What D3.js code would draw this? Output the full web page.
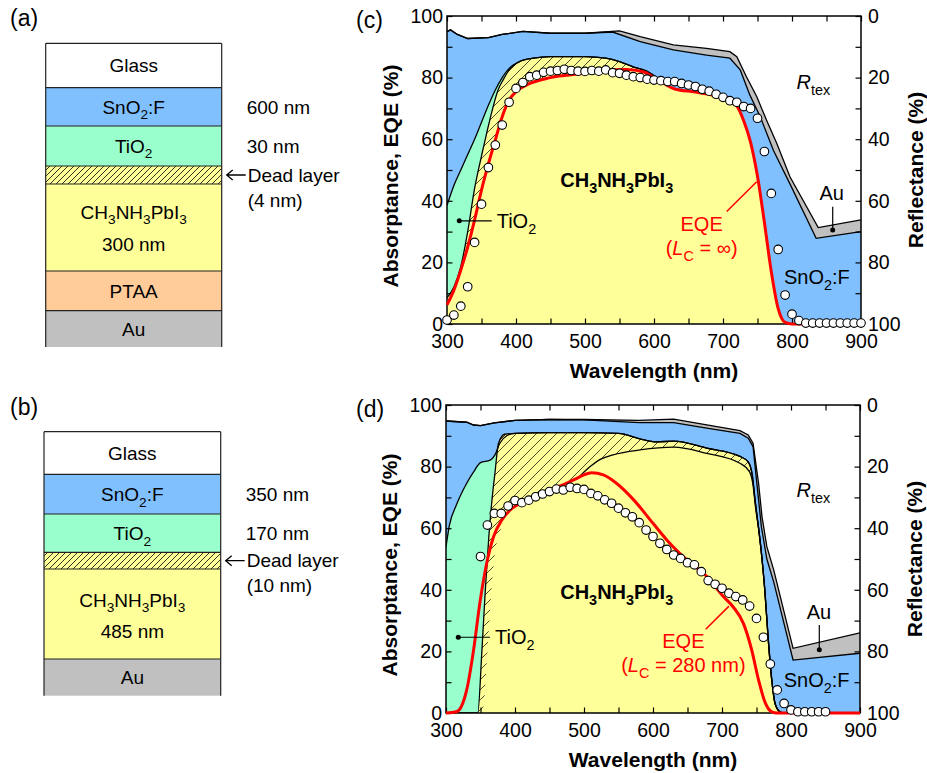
<!DOCTYPE html>
<html><head><meta charset="utf-8">
<script src="https://cdn.jsdelivr.net/npm/d3@7"></script>
<style>
body{margin:0;background:#fff}
text{font-family:"Liberation Sans",Arial,sans-serif;white-space:pre;fill:#000}
</style></head>
<body><svg id="fig" width="927" height="773"></svg>
<script>
// ================= DATA =================
// Panel (c): cumulative absorptance curves [wavelength nm, %]
const A_c = [[300,94.9],[305,95.5],[315,94],[330,92.7],[360,93],[380,94],[410,95],[450,94.4],[500,94.4],[550,95.2],[580,93.3],[628,90.6],[676,89.5],[710,88.4],[720,86.8],[734,80.3],[749,73.8],[763,66.2],[778,58.6],[797,47.8],[838,31.3],[900,33.8]];
const S_c = [[300,94.9],[305,95.5],[315,94],[330,92.7],[360,93],[380,94],[410,95],[450,94.4],[500,94.4],[540,94.8],[580,91.7],[628,89],[676,87.3],[710,86.3],[725,82.5],[739,74.3],[754,67.3],[773,56.4],[797,45.5],[835,27.8],[900,30]];
const T_c = [[300,38.5],[310,45],[320,50],[330,55],[340,60],[350,65.5],[360,71],[370,76],[380,80],[390,83],[405,85.2],[425,86.3],[450,86.8],[500,86.8],[530,86.3],[550,85.2],[570,83.5],[590,82],[610,79]];
const D_c = [[300,8.5],[310,12],[320,18.6],[330,30],[340,44],[352,56.5],[362,66.2],[374,76],[382,79.5],[390,82.5],[405,85.2],[425,86.3],[450,86.8],[500,86.8],[530,86.3],[550,85.2],[570,83.5],[590,82],[610,79]];
const P_c = [[300,6.2],[310,11],[320,17.5],[330,25],[340,33.8],[350,43.5],[360,52],[370,59.7],[380,67.3],[390,72.7],[400,75.4],[420,78.1],[450,80],[500,81.4],[530,82.5],[560,82.6],[585,81.8],[600,80],[615,78],[630,76.3],[660,75.3],[700,73.3],[720,70.8],[730,66],[740,59],[750,48],[760,33],[770,17],[780,5],[790,0.5],[800,0],[900,0]];
// EQE (L_C = infinity) equals perovskite absorptance in (c)
const eqeLine_c = P_c;
const eqeMeasWl_c = [300,310,320,330,340,350,360,370,380,390,400,410,420,430,440,450,460,470,480,490,500,510,520,530,540,550,560,570,580,590,600,610,620,630,640,650,660,670,680,690,700,710,720,730,740,750,760,770,780,790,800,810,820,830,840,850,860,870,880,890,900];
const eqeMeas_c = [1.3,2.9,5.8,12.1,26.5,38.9,50.8,58.1,64.6,72,76.5,78.4,80.3,80.8,81.7,82.1,82.3,82.7,82.3,82.1,82,82.3,82.1,82.5,81.6,81.4,80.8,80.3,80,79.5,79.2,79,78.7,78.7,78.1,77.6,77.1,76.2,75.6,74.6,73.6,72.5,72,70.6,70,66.8,56,42.4,24.2,9.4,3.2,1.1,0.3,0.3,0.3,0.3,0.3,0.3,0.3,0.3,0.3];

// Panel (d)
const A_d = [[300,94.8],[330,94.4],[340,93.5],[350,93.3],[370,94.2],[400,95],[450,95.3],[500,95.3],[580,95],[630,95.4],[680,93.5],[726,91.7],[738,90.3],[745,87.6],[753,74.6],[758,63.7],[765,54],[775,46.4],[803,21],[900,26]];
const S_d = [[300,94.8],[330,94.4],[340,93.5],[350,93.3],[370,94.2],[400,95],[450,95.3],[500,95.2],[580,94.3],[630,94.3],[680,92.4],[726,90.8],[738,89.2],[745,86.5],[752,71.4],[757,60.6],[765,50],[775,42.5],[803,17.2],[900,19.4]];
const D_d = [[300,0],[346,0],[352,20],[357,40],[362,57],[367,70],[371,78],[376,87.5],[385,90.5],[400,90.8],[450,91],[500,91],[550,90.8],[581,89],[605,88],[630,88.3],[678,86],[726,83.3],[738,81.5],[744,77],[748,69],[753,60],[758,50],[762,40],[767,24],[772,11],[777,3],[784,0.4],[790,0],[900,0]];
const T_dHead = [[300,54],[305,61],[315,67.5],[330,74.6],[340,78.3],[350,81.3],[364,82.1],[371,83.8],[378,87.6],[388,90]];
const T_d = T_dHead.concat(D_d.filter(d => d[0] >= 400));
const P_d = [[300,0],[352,0],[356,6],[360,20],[365,37],[370,50],[380,60],[392,65],[407,67.2],[427,69.5],[451,71.8],[475,74],[490,76],[509,80],[525,82.5],[542,83.8],[581,85.4],[630,86.3],[678,84.3],[726,81.1],[740,78.3],[745,74],[749,66],[753,60],[758,50],[762,40],[767,24],[772,11],[777,3],[784,0.4],[790,0],[900,0]];
const eqeLine_d = [[300,0],[315,0.4],[322,2],[330,7.5],[340,20.5],[349,35.6],[359,48.6],[369,57.3],[381,62.7],[393,65.9],[407,68],[427,70.2],[451,72.4],[475,74.6],[494,76.7],[511,78],[528,77.3],[547,74.6],[572,69.2],[600,61.6],[620,56.2],[649,49.7],[678,44.3],[702,37.8],[716,34.5],[731,29.1],[743,20.5],[753,10.7],[762,3.7],[772,0.4],[780,0],[900,0]];
const eqeMeasWl_d = [350,360,370,380,390,400,410,420,430,440,450,460,470,480,490,500,510,520,530,540,550,560,570,580,590,600,610,620,630,640,650,660,670,680,690,700,710,720,730,740,750,760,770,780,790,800,810,820,830,840,850];
const eqeMeas_d = [50.8,61,64.8,64.8,67.2,69,68.3,69.1,70.2,71.1,71.9,72.7,72.4,73.3,72.9,72.6,71.3,70.5,69.2,68.1,66.5,65,63.7,61.8,59.4,57.3,55.1,53.1,51.3,50.2,48.8,48.1,45.9,43,41.8,40.5,38.9,37.8,36.7,34.7,30.7,24.6,15.9,7.5,3.1,1,0.4,0.4,0.4,0.4,0.4];

// Ticks
const xTicks = [300,350,400,450,500,550,600,650,700,750,800,850,900];
const yTicks = [0,10,20,30,40,50,60,70,80,90,100];

// Layer stacks (diagrams)
const layersA = ["Glass","SnO_{2}:F","TiO_{2}","dead","CH_{3}NH_{3}PbI_{3}","PTAA","Au"];
const thickA = ["","600 nm","30 nm","(4 nm)","300 nm","",""];
const layersB = ["Glass","SnO_{2}:F","TiO_{2}","dead","CH_{3}NH_{3}PbI_{3}","Au"];
const thickB = ["","350 nm","170 nm","(10 nm)","485 nm",""];

// ================= STYLE =================
const COL = {glass:"#ffffff", sno2:"#80c0ff", tio2:"#99ffcc", pvk:"#ffff99", ptaa:"#ffcc99", au:"#c0c0c0", red:"#ff0000"};
const layerFill = {"Glass":COL.glass,"SnO_{2}:F":COL.sno2,"TiO_{2}":COL.tio2,"dead":COL.pvk,"CH_{3}NH_{3}PbI_{3}":COL.pvk,"PTAA":COL.ptaa,"Au":COL.au};

const svg = d3.select("#fig");
const defs = svg.append("defs");
function hatch(id, s, w){
  const p = defs.append("pattern").attr("id",id).attr("patternUnits","userSpaceOnUse").attr("width",s).attr("height",s);
  p.append("path").attr("d",`M${-s/2},${s/2} L${s/2},${-s/2} M0,${s} L${s},0 M${s/2},${1.5*s} L${1.5*s},${s/2}`)
   .attr("stroke","#000").attr("stroke-width",w).attr("fill","none");
}
hatch("hatchChart", 10, 0.7);
hatch("hatchDiag", 6, 0.8);

function rich(sel, str, fs){
  const parts = str.match(/_\{[^}]*\}|\*[^*]*\*|[^_*]+/g);
  let shift = 0;
  parts.forEach(p => {
    let t = p, sub = false, it = false;
    if (p.startsWith("_{")) { t = p.slice(2,-1); sub = true; }
    else if (p.startsWith("*")) { t = p.slice(1,-1); it = true; }
    const ts = sel.append("tspan").text(t);
    if (sub) { ts.attr("font-size", fs*0.72); const s = fs*0.3; ts.attr("dy", s - shift); shift = s; }
    else { ts.attr("font-size", fs); if (shift) { ts.attr("dy", -shift); shift = 0; } }
    if (it) ts.attr("font-style","italic");
  });
  return sel;
}
function label(g, x, y, str, opt={}){
  const fs = opt.fs || 20;
  const t = g.append("text").attr("x",x).attr("y",y).attr("font-size",fs)
    .attr("text-anchor", opt.anchor || "middle").attr("dy", opt.dy != null ? opt.dy : "0.35em");
  if (opt.bold) t.attr("font-weight","bold");
  if (opt.color) t.style("fill", opt.color);
  rich(t, str, fs);
  return t;
}

// ================= DIAGRAMS =================
function diagram(cfg){
  const g = svg.append("g");
  const yb = cfg.bounds;
  cfg.layers.forEach((name,i) => {
    g.append("rect").attr("x",cfg.x0).attr("y",yb[i]).attr("width",cfg.x1-cfg.x0).attr("height",yb[i+1]-yb[i])
      .attr("fill", layerFill[name]);
    if (name === "dead") {
      g.append("rect").attr("x",cfg.x0).attr("y",yb[i]).attr("width",cfg.x1-cfg.x0).attr("height",yb[i+1]-yb[i])
        .attr("fill","url(#hatchDiag)");
    }
  });
  for (let i = 0; i < yb.length-1; i++) {
    g.append("line").attr("x1",cfg.x0).attr("x2",cfg.x1).attr("y1",yb[i]).attr("y2",yb[i]).attr("stroke","#222").attr("stroke-width",1.2);
  }
  [cfg.x0,cfg.x1].forEach(x => g.append("line").attr("x1",x).attr("x2",x).attr("y1",yb[0]).attr("y2",yb[yb.length-1]).attr("stroke","#222").attr("stroke-width",1.2));
  const cx = (cfg.x0+cfg.x1)/2;
  cfg.layers.forEach((name,i) => {
    const cy = (yb[i]+yb[i+1])/2;
    if (name === "dead") {
      const ax = cfg.x1 + 4;
      g.append("path").attr("d",`M${ax+20},${cy} L${ax+1},${cy} M${ax+7},${cy-5} L${ax+1},${cy} L${ax+7},${cy+5}`)
        .attr("stroke","#000").attr("stroke-width",1.3).attr("fill","none");
      label(g, ax+22, cy, "Dead layer", {anchor:"start", fs:19});
      label(g, ax+22, cy+25, cfg.thick[i], {anchor:"start", fs:19});
    } else if (name.startsWith("CH")) {
      label(g, cx, cy + cfg.pvkOff[0], name, {fs:19});
      label(g, cx, cy + cfg.pvkOff[1], cfg.thick[i], {fs:19});
    } else {
      label(g, cx, cy, name, {fs:19});
      if (cfg.thick[i]) label(g, cfg.x1+25, cy, cfg.thick[i], {anchor:"start", fs:19});
    }
  });
  label(g, cfg.tagX, cfg.tagY, cfg.tag, {anchor:"start", fs:23, dy:0});
}
diagram({layers:layersA, thick:thickA, x0:45.7, x1:221.7, bounds:[43.3,87.7,126,166,184,271,310.7,347], pvkOff:[-15.5,16.5], tag:"(a)", tagX:10, tagY:26});
diagram({layers:layersB, thick:thickB, x0:44, x1:220.7, bounds:[431.7,474.3,514,552.3,569,659,695.7], pvkOff:[-14,17.7], tag:"(b)", tagX:10, tagY:415});

// ================= CHARTS =================
function chart(cfg){
  const g = svg.append("g");
  const x = d3.scaleLinear().domain([300,900]).range([cfg.l,cfg.r]);
  const y = d3.scaleLinear().domain([0,100]).range([cfg.b,cfg.t]);
  const yR = d3.scaleLinear().domain([0,100]).range([cfg.t,cfg.b]);
  const clip = "clip"+cfg.id;
  defs.append("clipPath").attr("id",clip).append("rect").attr("x",cfg.l).attr("y",cfg.t).attr("width",cfg.r-cfg.l).attr("height",cfg.b-cfg.t);
  const areaM = d3.area().x(d=>x(d[0])).y0(y(0)).y1(d=>y(d[1])).curve(d3.curveMonotoneX);
  const areaL = d3.area().x(d=>x(d[0])).y0(y(0)).y1(d=>y(d[1])).curve(d3.curveLinear);
  const lineM = d3.line().x(d=>x(d[0])).y(d=>y(d[1])).curve(d3.curveMonotoneX);
  const lineL = d3.line().x(d=>x(d[0])).y(d=>y(d[1])).curve(d3.curveLinear);
  const cg = g.append("g").attr("clip-path",`url(#${clip})`);
  cg.append("path").attr("d",areaL(cfg.A)).attr("fill",COL.au);
  cg.append("path").attr("d",areaL(cfg.S)).attr("fill",COL.sno2);
  cg.append("path").attr("d",areaM(cfg.T)).attr("fill",COL.tio2);
  cg.append("path").attr("d",areaM(cfg.D)).attr("fill",COL.pvk);
  cg.append("path").attr("d",areaM(cfg.D)).attr("fill","url(#hatchChart)");
  cg.append("path").attr("d",areaM(cfg.P)).attr("fill",COL.pvk);
  const ln = (d, gen) => cg.append("path").attr("d",gen(d)).attr("fill","none").attr("stroke","#000").attr("stroke-width",1.3);
  ln(cfg.A, lineL); ln(cfg.S, lineL); ln(cfg.T, lineM); ln(cfg.D, lineM);
  if (cfg.Pline) ln(cfg.Pline, lineM);

  const styleAx = sel => { sel.select(".domain").remove(); sel.selectAll(".tick line").attr("stroke","#000").attr("stroke-width",1.2);
    sel.selectAll(".tick text").attr("font-size",19.5).attr("font-family","Liberation Sans, Arial, sans-serif").style("fill","#000"); };
  g.append("g").attr("transform",`translate(0,${cfg.b})`)
    .call(d3.axisBottom(x).tickValues(xTicks).tickSizeInner(-5.5).tickSizeOuter(0).tickPadding(10).tickFormat(d => d%100===0 ? d : "")).call(styleAx);
  g.append("g").attr("transform",`translate(0,${cfg.t})`)
    .call(d3.axisTop(x).tickValues(xTicks).tickSizeInner(-5.5).tickSizeOuter(0).tickFormat("")).call(styleAx);
  g.append("g").attr("transform",`translate(${cfg.l},0)`)
    .call(d3.axisLeft(y).tickValues(yTicks).tickSizeInner(-5.5).tickSizeOuter(0).tickPadding(4).tickFormat(d => d%20===0 ? d : "")).call(styleAx);
  g.append("g").attr("transform",`translate(${cfg.r},0)`)
    .call(d3.axisRight(yR).tickValues(yTicks).tickSizeInner(-5.5).tickSizeOuter(0).tickPadding(7).tickFormat(d => d%20===0 ? d : "")).call(styleAx);
  g.append("rect").attr("x",cfg.l).attr("y",cfg.t).attr("width",cfg.r-cfg.l).attr("height",cfg.b-cfg.t)
    .attr("fill","none").attr("stroke","#000").attr("stroke-width",1.5);

  g.append("path").attr("d",lineM(cfg.eqe)).attr("fill","none").attr("stroke",COL.red).attr("stroke-width",3);
  g.selectAll(null).data(cfg.mWl.map((w,i)=>[w,cfg.mV[i]])).enter().append("circle")
    .attr("cx",d=>x(d[0])).attr("cy",d=>y(d[1])).attr("r",4.3)
    .attr("fill","#fff").attr("stroke","#000").attr("stroke-width",1.1);

  const an = cfg.ann;
  label(g, x(an.pvk[0]), y(an.pvk[1]), "CH_{3}NH_{3}PbI_{3}", {bold:true, fs:20});
  g.append("circle").attr("cx",x(an.tio2Dot[0])).attr("cy",y(an.tio2Dot[1])).attr("r",2.5).attr("fill","#000");
  g.append("line").attr("x1",x(an.tio2Dot[0])).attr("x2",x(an.tio2LineEnd)).attr("y1",y(an.tio2Dot[1])).attr("y2",y(an.tio2Dot[1])).attr("stroke","#000").attr("stroke-width",1.2);
  label(g, x(an.tio2Text), y(an.tio2Dot[1]), "TiO_{2}", {anchor:"start"});
  g.append("line").attr("x1",x(an.eqeLead[0][0])).attr("y1",y(an.eqeLead[0][1])).attr("x2",x(an.eqeLead[1][0])).attr("y2",y(an.eqeLead[1][1])).attr("stroke",COL.red).attr("stroke-width",1.5);
  label(g, x(an.eqe[0]), y(an.eqe[1]), "EQE", {color:COL.red});
  label(g, x(an.eqe[0]), y(an.eqe[2]), an.lc, {color:COL.red});
  label(g, x(an.rtex[0]), y(an.rtex[1]), "*R*_{tex}");
  label(g, x(an.au[0]), y(an.au[1]), "Au");
  g.append("line").attr("x1",x(an.auDot[0])).attr("x2",x(an.auDot[0])).attr("y1",y(an.auDot[2])).attr("y2",y(an.auDot[1])).attr("stroke","#000").attr("stroke-width",1.2);
  g.append("circle").attr("cx",x(an.auDot[0])).attr("cy",y(an.auDot[1])).attr("r",2.5).attr("fill","#000");
  label(g, x(an.sno2[0]), y(an.sno2[1]), "SnO_{2}:F");

  const cy = (cfg.t+cfg.b)/2;
  g.append("text").attr("transform",`translate(${cfg.l-56},${cy+6}) rotate(-90)`).attr("text-anchor","middle").attr("dy","0.35em")
    .attr("font-size",21).attr("font-weight","bold").text("Absorptance, EQE (%)");
  g.append("text").attr("transform",`translate(${cfg.r+55},${cy}) rotate(-90)`).attr("text-anchor","middle").attr("dy","0.35em")
    .attr("font-size",21).attr("font-weight","bold").text("Reflectance (%)");
  g.append("text").attr("x",(cfg.l+cfg.r)/2).attr("y",cfg.b+47).attr("text-anchor","middle").attr("dy","0.35em")
    .attr("font-size",21).attr("font-weight","bold").text("Wavelength (nm)");
  label(g, cfg.tagX, cfg.tagY, cfg.tag, {anchor:"start", fs:23, dy:0});
}

chart({id:"c", l:447, r:861, t:16, b:324, A:A_c, S:S_c, T:T_c, D:D_c, P:P_c, Pline:null,
  eqe:eqeLine_c, mWl:eqeMeasWl_c, mV:eqeMeas_c, tag:"(c)", tagX:356, tagY:28,
  ann:{pvk:[546,46.8], tio2Dot:[317.8,33.5], tio2LineEnd:364.8, tio2Text:372,
       eqeLead:[[705.4,36.5],[748.8,46.2]], eqe:[669,32.5,24.6], lc:"(*L*_{C} = ∞)",
       rtex:[831,78.7], au:[857.5,42.5], auDot:[859,30.5,38.1], sno2:[836,15.4]}});

chart({id:"d", l:446, r:860, t:405, b:713, A:A_d, S:S_d, T:T_d, D:D_d, P:P_d, Pline:P_d.filter(d => d[0] >= 480),
  eqe:eqeLine_d, mWl:eqeMeasWl_d, mV:eqeMeas_d, tag:"(d)", tagX:356, tagY:417,
  ann:{pvk:[547.4,39.4], tio2Dot:[317.8,24.6], tio2LineEnd:363.8, tio2Text:371,
       eqeLead:[[676.4,27.2],[710.1,34.7]], eqe:[644,23.5,15.6], lc:"(*L*_{C} = 280 nm)",
       rtex:[832.3,72.4], au:[840.6,32.9], auDot:[841,20.5,28.6], sno2:[837.2,10.7]}});
</script></body></html>
